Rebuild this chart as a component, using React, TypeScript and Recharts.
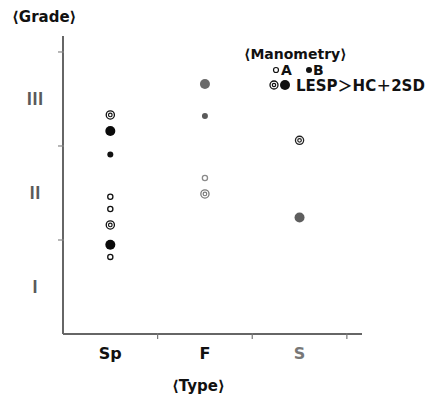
import React from 'react';
import { ScatterChart, Scatter, XAxis, YAxis } from 'recharts';

const categories = ['Sp', 'F', 'S'];
const gradeLabels = ['Ⅰ', 'Ⅱ', 'Ⅲ'];

// Manometry A (small open circles)
const manometryA: [string, number][] = [
  ['Sp', 1.46],
  ['Sp', 1.33],
  ['Sp', 0.82],
  ['F', 1.66],
];
// Manometry B (small filled dots)
const manometryB: [string, number][] = [
  ['Sp', 1.91],
  ['F', 2.32],
];
// A with LESP > HC + 2SD (double circles)
const lespA: [string, number][] = [
  ['Sp', 2.33],
  ['Sp', 1.16],
  ['F', 1.49],
  ['S', 2.06],
];
// B with LESP > HC + 2SD (large filled dots)
const lespB: [string, number][] = [
  ['Sp', 2.16],
  ['Sp', 0.95],
  ['F', 2.66],
  ['S', 1.24],
];

const toData = (arr: [string, number][]) =>
  arr.map(([c, g]) => ({ x: categories.indexOf(c) + 0.5, y: g, cat: c }));

const colA: Record<string, string> = { Sp: '#111', F: '#8a8a8a', S: '#555' };
const colB: Record<string, string> = { Sp: '#111', F: '#5a5a5a', S: '#555' };
const colLA: Record<string, string> = { Sp: '#111', F: '#7a7a7a', S: '#222' };
const colLB: Record<string, string> = { Sp: '#0a0a0a', F: '#6a6a6a', S: '#5e5e5e' };

const FONT = '"DejaVu Sans", "Noto Sans CJK JP", sans-serif';
const CJK = '"Noto Sans CJK JP", "DejaVu Sans", sans-serif';

const OpenShape = (p: any) => (
  <circle cx={p.cx} cy={p.cy} r={2.6} fill="#fff" stroke={colA[p.payload.cat]} strokeWidth={1.3} />
);
const DotShape = (p: any) => <circle cx={p.cx} cy={p.cy} r={3} fill={colB[p.payload.cat]} />;
const DoubleShape = (p: any) => (
  <g>
    <circle cx={p.cx} cy={p.cy} r={4.1} fill="#fff" stroke={colLA[p.payload.cat]} strokeWidth={1.3} />
    <circle cx={p.cx} cy={p.cy} r={1.8} fill="#fff" stroke={colLA[p.payload.cat]} strokeWidth={1.2} />
  </g>
);
const BigShape = (p: any) => <circle cx={p.cx} cy={p.cy} r={5} fill={colLB[p.payload.cat]} />;

const XTick = (props: any) => {
  const { x, y, payload } = props;
  const v = payload.value;
  if (Number.isInteger(v)) {
    return <line x1={x} x2={x} y1={y - 1} y2={y + 5} stroke="#777" strokeWidth={1.2} />;
  }
  const c = categories[Math.floor(v)];
  return (
    <text
      x={x}
      y={y + 25}
      textAnchor="middle"
      fontFamily={FONT}
      fontWeight={700}
      fontSize={16}
      fill={c === 'S' ? '#777' : '#111'}
    >
      {c}
    </text>
  );
};

const YTick = (props: any) => {
  const { x, y, payload } = props;
  const v = payload.value;
  if (Number.isInteger(v)) {
    return <line x1={x - 5} x2={x + 1} y1={y} y2={y} stroke="#888" strokeWidth={1.2} />;
  }
  const g = gradeLabels[Math.floor(v)];
  return (
    <text
      x={x - 28}
      y={y + 6}
      textAnchor="middle"
      fontFamily={CJK}
      fontWeight={700}
      fontSize={17}
      fill="#5a5a5a"
    >
      {g}
    </text>
  );
};

const LegendBox = () => (
  <svg width={195} height={60} style={{ position: 'absolute', left: 240, top: 40 }}>
    <text x={4} y={19} fontFamily={FONT} fontWeight={700} fontSize={14} fill="#111">
      ⟨Manometry⟩
    </text>
    <circle cx={36} cy={30} r={2.5} fill="#fff" stroke="#111" strokeWidth={1.2} />
    <text x={41} y={35} fontFamily={FONT} fontWeight={700} fontSize={14} fill="#111">
      A
    </text>
    <circle cx={69} cy={30} r={3} fill="#111" />
    <text x={73} y={35} fontFamily={FONT} fontWeight={700} fontSize={14} fill="#111">
      B
    </text>
    <circle cx={34} cy={45} r={4} fill="#fff" stroke="#111" strokeWidth={1.3} />
    <circle cx={34} cy={45} r={1.7} fill="#fff" stroke="#111" strokeWidth={1.2} />
    <circle cx={45} cy={45} r={5} fill="#111" />
    <text x={56} y={50.5} fontFamily={FONT} fontWeight={600} fontSize={15} fill="#111">
      LESP＞HC＋2SD
    </text>
  </svg>
);

export default function App() {
  return (
    <div style={{ position: 'absolute', left: 0, top: 0, width: 435, height: 396, background: '#fff' }}>
      <div
        style={{
          position: 'absolute',
          left: 12,
          top: 8,
          fontFamily: FONT,
          fontWeight: 700,
          fontSize: 15,
          color: '#111',
          whiteSpace: 'nowrap',
        }}
      >
        ⟨Grade⟩
      </div>
      <div
        style={{
          position: 'absolute',
          left: 172,
          top: 377,
          fontFamily: FONT,
          fontWeight: 700,
          fontSize: 15,
          color: '#111',
          whiteSpace: 'nowrap',
        }}
      >
        ⟨Type⟩
      </div>
      <ScatterChart width={435} height={396} margin={{ top: 36, right: 73, bottom: 32, left: 33 }}>
        <XAxis
          type="number"
          dataKey="x"
          domain={[0, 3.16]}
          ticks={[0.5, 1, 1.5, 2, 2.5, 3]}
          interval={0}
          height={30}
          tickSize={0}
          tickMargin={0}
          tickLine={false}
          tick={<XTick />}
          axisLine={{ stroke: '#666', strokeWidth: 2 }}
        />
        <YAxis
          type="number"
          dataKey="y"
          domain={[0, 3.17]}
          ticks={[0.5, 1, 1.5, 2, 2.5, 3]}
          interval={0}
          width={30}
          tickSize={0}
          tickMargin={0}
          tickLine={false}
          tick={<YTick />}
          axisLine={{ stroke: '#666', strokeWidth: 2 }}
        />
        <Scatter data={toData(manometryA)} shape={OpenShape} isAnimationActive={false} />
        <Scatter data={toData(manometryB)} shape={DotShape} isAnimationActive={false} />
        <Scatter data={toData(lespA)} shape={DoubleShape} isAnimationActive={false} />
        <Scatter data={toData(lespB)} shape={BigShape} isAnimationActive={false} />
      </ScatterChart>
      <LegendBox />
    </div>
  );
}
